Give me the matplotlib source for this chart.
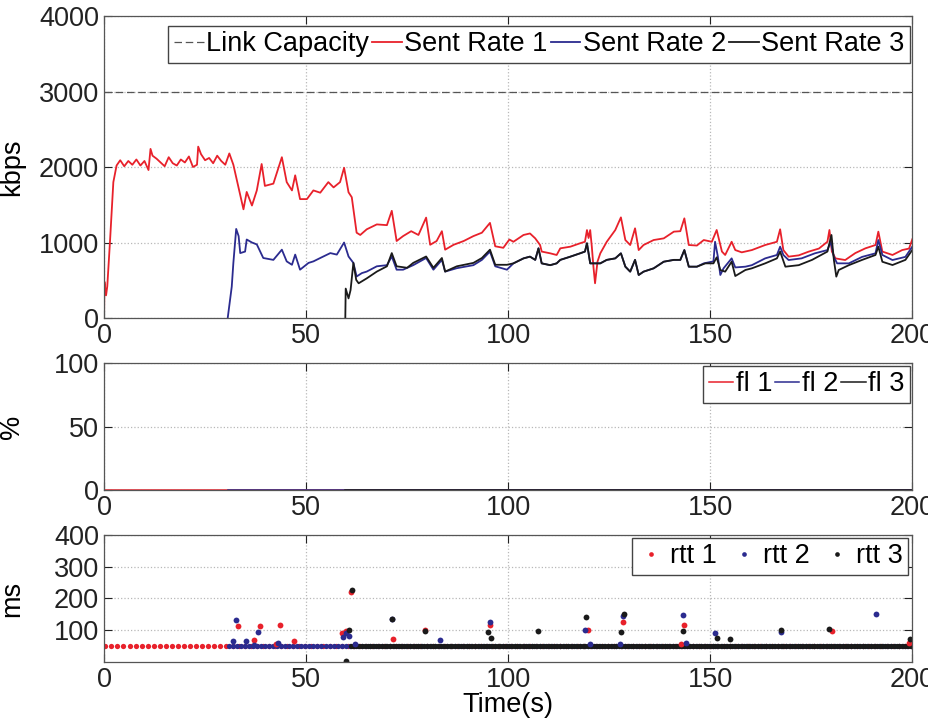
import numpy as np
import matplotlib
matplotlib.use("Agg")
import matplotlib.pyplot as plt

plt.rcParams['font.family'] = ['Liberation Sans', 'DejaVu Sans']

# ---- sent rate (kbps) ----
link_capacity = 3000

sr1_t = [0, 0.1, 0.5, 0.8, 1.5, 2.3, 3.1, 4, 5, 6, 7, 8, 9, 10, 11, 11.5, 12, 13, 14, 15, 16, 17,
         18, 19, 20, 21, 22, 23, 23.3, 24, 25, 26, 27, 28, 29, 30, 31, 32, 32.8, 34.5, 35.3, 36.6,
         37.8, 39, 39.8, 41.9, 44, 45.2, 46.5, 47.3, 48.5, 50.2, 51.8, 53.5, 55.5, 56.8, 58.4,
         59.4, 60.5, 61.3, 62.5, 63.4, 65, 67.5, 70, 71.2, 72.4, 74, 76, 77.8, 79.7, 80.7, 82.3,
         83.6, 84.4, 86.5, 89, 91.4, 93.5, 95.5, 96.8, 98.8, 100.3, 101.3, 103.8, 105.4, 106.7,
         107.9, 108.3, 110.4, 112, 112.9, 115.4, 117.8, 119, 119.5, 119.9, 120.3, 120.7, 121.1,
         121.5, 122.1, 122.8, 124.4, 126.5, 127.9, 129, 130.2, 131.4, 132.3, 133.5, 136, 138.5,
         141, 142.6, 143.6, 144.7, 146.7, 148.4, 150.4, 151.6, 152.9, 153.7, 155.3, 156.2, 157.8,
         160.3, 163.6, 166.5, 167.3, 168.1, 169.4, 171.9, 174.4, 176.9, 179, 179.5, 180.1, 181,
         183.4, 185.9, 188.4, 190.9, 191.6, 192.6, 195.1, 197.5, 199.2, 200]
sr1_v = [0, 480, 300, 420, 1040, 1800, 2020, 2090, 2010, 2080, 2030, 2100, 2020, 2080, 1960, 2240,
         2150, 2110, 2060, 2010, 2130, 2050, 2020, 2100, 2060, 2140, 2000, 2030, 2270, 2170, 2090,
         2120, 2050, 2150, 2080, 2030, 2180, 2030, 1840, 1440, 1670, 1490, 1690, 2040, 1750, 1780,
         2130, 1800, 1690, 1890, 1575, 1575, 1690, 1660, 1800, 1730, 1800, 1990, 1665, 1600, 1130,
         1100, 1175, 1240, 1230, 1420, 1020, 1085, 1150, 1100, 1330, 970, 1020, 1150, 905, 970,
         1020, 1085, 1130, 1260, 950, 930, 1040, 1010, 1100, 1120, 1055, 967, 880, 857, 835, 923,
         945, 990, 1010, 1165, 1060, 1165, 945, 680, 460, 746, 857, 1010, 1165, 1333, 1033, 967,
         1188, 900, 967, 1033, 1055, 1144, 1150, 1320, 967, 960, 1033, 1010, 1166, 880, 835, 1010,
         900, 870, 900, 967, 1010, 1175, 900, 813, 830, 880, 920, 1010, 1166, 880, 790, 768, 860,
         923, 967, 1144, 880, 835, 900, 920, 1042]

sr2_t = [30.6, 31.6, 32, 32.7, 33.3, 33.7, 34.9, 35.3, 36.6, 37.8, 39.4, 41.9, 44, 45.2, 46.5,
         47.3, 48.5, 50.6, 51.8, 53.5, 56, 57.6, 59.4, 60.5, 61.7, 62.5, 63.8, 65, 67.5, 70, 71.2,
         72.4, 74, 76.5, 79.7, 81.5, 83.6, 84.4, 87.3, 91.4, 93.5, 95.5, 96.8, 99.7, 101.3, 103.8,
         105.4, 106.7, 107.5, 108.3, 110.4, 112, 112.9, 115.4, 117.8, 119, 119.5, 120.3, 121.5,
         122.8, 124.4, 126.5, 127.9, 129, 130.2, 131.4, 132.3, 133.5, 136, 138.5, 141, 142.6,
         143.6, 144.7, 146.7, 148.4, 150.8, 151.2, 151.9, 152.5, 153.3, 155.3, 156.2, 158.7, 160.3,
         163.6, 166.5, 167.3, 168.1, 169.4, 172.6, 175.9, 179, 179.8, 180.6, 181.4, 184.3, 187.6,
         190.9, 191.6, 192.6, 195.1, 198.3, 200]
sr2_v = [0, 415, 730, 1180, 1085, 860, 880, 1040, 1000, 975, 795, 770, 905, 750, 705, 840, 640,
         730, 750, 795, 860, 840, 1000, 815, 730, 550, 595, 615, 685, 700, 815, 640, 640, 700, 795,
         640, 770, 615, 660, 700, 770, 880, 685, 640, 724, 790, 813, 770, 923, 724, 700, 724, 770,
         813, 857, 880, 990, 724, 724, 724, 770, 790, 857, 680, 614, 770, 570, 614, 658, 746, 770,
         770, 900, 680, 680, 724, 750, 1010, 810, 570, 658, 790, 670, 680, 700, 790, 835, 945, 835,
         768, 790, 857, 900, 1010, 810, 724, 724, 810, 857, 1033, 835, 768, 810, 945]

sr3_t = [59.7, 59.8, 60.5, 61, 61.7, 62.4, 63, 65, 67.5, 70, 71.2, 72.4, 75, 76.5, 79.7, 81.5,
         83.6, 84.4, 87.3, 91.4, 93.5, 95.5, 96.8, 99.7, 101.3, 103.8, 105.4, 106.7, 107.5, 108.3,
         110.4, 112, 112.9, 115.4, 117.8, 119, 119.5, 120.3, 121.5, 122.8, 124.4, 126.5, 127.9,
         129, 130.2, 131.4, 132.3, 133.5, 136, 138.5, 141, 142.6, 143.6, 144.7, 146.7, 148.8,
         150.8, 151.6, 152.5, 153.7, 155.3, 156.2, 158.7, 160.3, 163.6, 166.5, 167.3, 168.6,
         171.9, 175.2, 179, 180, 180.6, 181.2, 181.8, 184.3, 187.6, 190.9, 191.6, 192.6, 195.1,
         198.3, 200]
sr3_v = [0, 390, 260, 370, 730, 505, 460, 525, 615, 685, 860, 685, 665, 730, 815, 665, 795, 615,
         685, 730, 795, 905, 705, 705, 724, 790, 813, 770, 923, 724, 700, 724, 770, 813, 857, 880,
         990, 724, 724, 724, 770, 790, 857, 680, 614, 770, 570, 614, 658, 746, 770, 770, 900, 680,
         680, 724, 724, 804, 636, 614, 746, 556, 636, 658, 724, 790, 880, 680, 700, 770, 880,
         1100, 770, 548, 636, 700, 770, 835, 945, 745, 702, 770, 900]

# ---- fraction lost (%) ----
fl1_t = [0, 200]
fl1_v = [0, 0]
fl2_t = [30.6, 200]
fl2_v = [0, 0]
fl3_t = [59.7, 200]
fl3_v = [0, 0]

# ---- rtt (ms): baseline sampling and spikes ----
rtt_base = 50
rtt1_base_t = np.arange(0.3, 200, 1.5)
rtt2_base_t = np.arange(30.8, 200, 1.0)
rtt3_base_t = np.arange(61.0, 200, 0.7)

rtt1_spk_t = [33.1, 37.1, 38.7, 42.5, 43.6, 46.9, 58.8, 59.8, 61.1, 71.6, 79.3, 95.4, 119.7,
              128.3, 142.8, 143.6, 180.1, 199.3]
rtt1_spk_v = [112, 69, 112, 56, 115, 67, 90, 98, 222, 71, 100, 118, 100, 126, 58, 118, 98, 61]
rtt2_spk_t = [31.8, 32.7, 35.1, 37.1, 38.1, 43.0, 59.2, 59.9, 60.7, 62.1, 71.2, 83.2, 95.4,
              119.1, 120.3, 127.7, 128.3, 143.2, 144.0, 151.2, 167.5, 191.1]
rtt2_spk_v = [66, 131, 67, 53, 95, 61, 80, 90, 81, 58, 136, 69, 126, 100, 56, 56, 144, 149, 61,
              90, 94, 152]
rtt3_spk_t = [59.8, 60.5, 61.4, 71.2, 79.5, 95.0, 95.7, 107.3, 119.3, 127.9, 128.6, 143.2,
              151.6, 155.0, 167.5, 179.5, 199.5]
rtt3_spk_v = [2, 100, 227, 134, 97, 93, 74, 97, 142, 93, 150, 97, 74, 71, 102, 105, 71]

RED = '#e8212b'
BLUE = '#2b2b8f'
BLACK = '#1a1a1a'
GRID = '#b8b8b8'
FS = 19.5

fig = plt.figure(figsize=(9.29, 7.19), dpi=100)
ax1 = fig.add_axes([0.112, 0.5577, 0.870, 0.420])
ax2 = fig.add_axes([0.112, 0.3185, 0.870, 0.1766])
ax3 = fig.add_axes([0.112, 0.0793, 0.870, 0.1766])


def style(ax):
    ax.set_xlim(0, 200)
    ax.set_xticks([0, 50, 100, 150, 200])
    ax.grid(True, ls=':', color=GRID, lw=0.9)
    ax.tick_params(direction='in', top=True, right=True, length=6, width=0.8,
                   labelsize=FS, pad=3.5, colors='#222222')
    for s in ax.spines.values():
        s.set_color('#555555')
        s.set_linewidth(0.9)
    ax.yaxis.set_label_coords(-0.098, 0.5)


leg_kw = dict(fontsize=FS, frameon=True, fancybox=False, edgecolor='#444444',
              borderpad=0.2, borderaxespad=0.0, framealpha=1)

ax1.plot([0, 200], [link_capacity, link_capacity], ls=(0, (6, 3)), color='#555555', lw=0.9,
         label='Link Capacity')
ax1.plot(sr1_t, sr1_v, color=RED, lw=1.3, label='Sent Rate 1')
ax1.plot(sr2_t, sr2_v, color=BLUE, lw=1.3, label='Sent Rate 2')
ax1.plot(sr3_t, sr3_v, color=BLACK, lw=1.3, label='Sent Rate 3')
ax1.set_ylim(0, 4000)
ax1.set_yticks([0, 1000, 2000, 3000, 4000])
ax1.set_ylabel('kbps', fontsize=FS)
style(ax1)
ax1.legend(loc='upper right', bbox_to_anchor=(0.9975, 0.967), ncol=4, handlelength=1.1,
           handletextpad=0.1, columnspacing=0.1, **leg_kw)

ax2.plot(fl1_t, fl1_v, color=RED, lw=1.1, label='fl 1')
ax2.plot(fl2_t, fl2_v, color=BLUE, lw=1.1, label='fl 2')
ax2.plot(fl3_t, fl3_v, color=BLACK, lw=1.1, label='fl 3')
ax2.set_ylim(0, 100)
ax2.set_yticks([0, 50, 100])
ax2.set_ylabel('%', fontsize=FS)
style(ax2)
ax2.legend(loc='upper right', bbox_to_anchor=(0.9975, 0.976), ncol=3, handlelength=0.9,
           handletextpad=0.1, columnspacing=0.1, **leg_kw)

ax3.plot(rtt1_base_t, np.full(len(rtt1_base_t), rtt_base), 'o', color=RED, ms=3.8, mec='none')
ax3.plot(rtt2_base_t, np.full(len(rtt2_base_t), rtt_base), 'o', color=BLUE, ms=3.8, mec='none')
ax3.plot(rtt3_base_t, np.full(len(rtt3_base_t), rtt_base - 1), 'o', color=BLACK, ms=3.8,
         mec='none')
ax3.plot(rtt1_spk_t, rtt1_spk_v, 'o', color=RED, ms=4.2, mec='none', label='rtt 1')
ax3.plot(rtt2_spk_t, rtt2_spk_v, 'o', color=BLUE, ms=4.2, mec='none', label='rtt 2')
ax3.plot(rtt3_spk_t, rtt3_spk_v, 'o', color=BLACK, ms=4.2, mec='none', label='rtt 3')
ax3.set_ylim(0, 400)
ax3.set_yticks([100, 200, 300, 400])
ax3.set_ylabel('ms', fontsize=FS)
style(ax3)
ax3.legend(loc='upper right', bbox_to_anchor=(0.995, 0.976), ncol=3, handlelength=1.0,
           handletextpad=0.2, columnspacing=0.5, markerscale=0.8, **leg_kw)

fig.text(0.547, 1 - 705 / 719, 'Time(s)', fontsize=FS, ha='center', va='center')

fig.savefig('out.png', dpi=100)
